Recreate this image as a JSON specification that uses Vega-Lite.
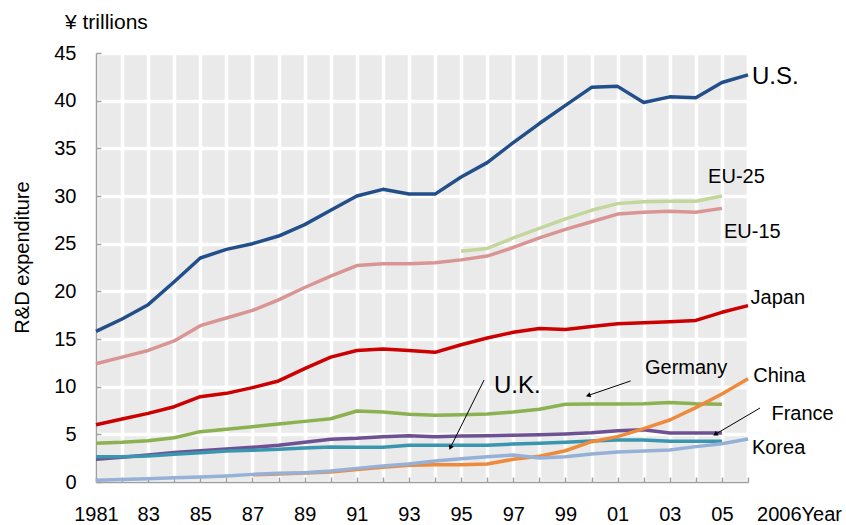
{
  "$schema": "https://vega.github.io/schema/vega-lite/v6.json",
  "autosize": "none",
  "width": 652,
  "height": 429,
  "padding": {"left": 96, "top": 53, "right": 98, "bottom": 43},
  "background": "white",
  "config": {
    "view": {"stroke": null, "fill": "#EAEAEA"},
    "font": "Liberation Sans",
    "title": {"font": "Liberation Sans", "fontSize": 21, "fontWeight": "normal", "color": "black"}
  },
  "title": {
    "text": "¥ trillions",
    "anchor": "start",
    "frame": "group",
    "dx": -31,
    "offset": 10
  },
  "datasets": {
    "series": [
      {"country": "U.S.", "year": 1981, "value": 15.8},
      {"country": "U.S.", "year": 1982, "value": 17.1},
      {"country": "U.S.", "year": 1983, "value": 18.6},
      {"country": "U.S.", "year": 1984, "value": 21.0},
      {"country": "U.S.", "year": 1985, "value": 23.5},
      {"country": "U.S.", "year": 1986, "value": 24.4},
      {"country": "U.S.", "year": 1987, "value": 25.0},
      {"country": "U.S.", "year": 1988, "value": 25.8},
      {"country": "U.S.", "year": 1989, "value": 27.0},
      {"country": "U.S.", "year": 1990, "value": 28.5},
      {"country": "U.S.", "year": 1991, "value": 30.0},
      {"country": "U.S.", "year": 1992, "value": 30.7},
      {"country": "U.S.", "year": 1993, "value": 30.2},
      {"country": "U.S.", "year": 1994, "value": 30.2},
      {"country": "U.S.", "year": 1995, "value": 32.0},
      {"country": "U.S.", "year": 1996, "value": 33.5},
      {"country": "U.S.", "year": 1997, "value": 35.6},
      {"country": "U.S.", "year": 1998, "value": 37.6},
      {"country": "U.S.", "year": 1999, "value": 39.5},
      {"country": "U.S.", "year": 2000, "value": 41.4},
      {"country": "U.S.", "year": 2001, "value": 41.5},
      {"country": "U.S.", "year": 2002, "value": 39.8},
      {"country": "U.S.", "year": 2003, "value": 40.4},
      {"country": "U.S.", "year": 2004, "value": 40.3},
      {"country": "U.S.", "year": 2005, "value": 41.9},
      {"country": "U.S.", "year": 2006, "value": 42.7},
      {"country": "EU-15", "year": 1981, "value": 12.4},
      {"country": "EU-15", "year": 1982, "value": 13.1},
      {"country": "EU-15", "year": 1983, "value": 13.8},
      {"country": "EU-15", "year": 1984, "value": 14.8},
      {"country": "EU-15", "year": 1985, "value": 16.4},
      {"country": "EU-15", "year": 1986, "value": 17.2},
      {"country": "EU-15", "year": 1987, "value": 18.0},
      {"country": "EU-15", "year": 1988, "value": 19.1},
      {"country": "EU-15", "year": 1989, "value": 20.4},
      {"country": "EU-15", "year": 1990, "value": 21.6},
      {"country": "EU-15", "year": 1991, "value": 22.7},
      {"country": "EU-15", "year": 1992, "value": 22.9},
      {"country": "EU-15", "year": 1993, "value": 22.9},
      {"country": "EU-15", "year": 1994, "value": 23.0},
      {"country": "EU-15", "year": 1995, "value": 23.3},
      {"country": "EU-15", "year": 1996, "value": 23.7},
      {"country": "EU-15", "year": 1997, "value": 24.6},
      {"country": "EU-15", "year": 1998, "value": 25.6},
      {"country": "EU-15", "year": 1999, "value": 26.5},
      {"country": "EU-15", "year": 2000, "value": 27.3},
      {"country": "EU-15", "year": 2001, "value": 28.1},
      {"country": "EU-15", "year": 2002, "value": 28.3},
      {"country": "EU-15", "year": 2003, "value": 28.4},
      {"country": "EU-15", "year": 2004, "value": 28.3},
      {"country": "EU-15", "year": 2005, "value": 28.7},
      {"country": "EU-25", "year": 1995, "value": 24.2},
      {"country": "EU-25", "year": 1996, "value": 24.5},
      {"country": "EU-25", "year": 1997, "value": 25.6},
      {"country": "EU-25", "year": 1998, "value": 26.6},
      {"country": "EU-25", "year": 1999, "value": 27.6},
      {"country": "EU-25", "year": 2000, "value": 28.5},
      {"country": "EU-25", "year": 2001, "value": 29.2},
      {"country": "EU-25", "year": 2002, "value": 29.4},
      {"country": "EU-25", "year": 2003, "value": 29.45},
      {"country": "EU-25", "year": 2004, "value": 29.45},
      {"country": "EU-25", "year": 2005, "value": 30.0},
      {"country": "Japan", "year": 1981, "value": 6.0},
      {"country": "Japan", "year": 1982, "value": 6.6},
      {"country": "Japan", "year": 1983, "value": 7.2},
      {"country": "Japan", "year": 1984, "value": 7.9},
      {"country": "Japan", "year": 1985, "value": 8.95},
      {"country": "Japan", "year": 1986, "value": 9.3},
      {"country": "Japan", "year": 1987, "value": 9.9},
      {"country": "Japan", "year": 1988, "value": 10.6},
      {"country": "Japan", "year": 1989, "value": 11.9},
      {"country": "Japan", "year": 1990, "value": 13.1},
      {"country": "Japan", "year": 1991, "value": 13.8},
      {"country": "Japan", "year": 1992, "value": 13.95},
      {"country": "Japan", "year": 1993, "value": 13.8},
      {"country": "Japan", "year": 1994, "value": 13.6},
      {"country": "Japan", "year": 1995, "value": 14.4},
      {"country": "Japan", "year": 1996, "value": 15.1},
      {"country": "Japan", "year": 1997, "value": 15.7},
      {"country": "Japan", "year": 1998, "value": 16.1},
      {"country": "Japan", "year": 1999, "value": 16.0},
      {"country": "Japan", "year": 2000, "value": 16.3},
      {"country": "Japan", "year": 2001, "value": 16.6},
      {"country": "Japan", "year": 2002, "value": 16.7},
      {"country": "Japan", "year": 2003, "value": 16.8},
      {"country": "Japan", "year": 2004, "value": 16.95},
      {"country": "Japan", "year": 2005, "value": 17.8},
      {"country": "Japan", "year": 2006, "value": 18.5},
      {"country": "Germany", "year": 1981, "value": 4.06},
      {"country": "Germany", "year": 1982, "value": 4.16},
      {"country": "Germany", "year": 1983, "value": 4.33},
      {"country": "Germany", "year": 1984, "value": 4.65},
      {"country": "Germany", "year": 1985, "value": 5.28},
      {"country": "Germany", "year": 1986, "value": 5.53},
      {"country": "Germany", "year": 1987, "value": 5.8},
      {"country": "Germany", "year": 1988, "value": 6.08},
      {"country": "Germany", "year": 1989, "value": 6.36},
      {"country": "Germany", "year": 1990, "value": 6.64},
      {"country": "Germany", "year": 1991, "value": 7.45},
      {"country": "Germany", "year": 1992, "value": 7.34},
      {"country": "Germany", "year": 1993, "value": 7.1},
      {"country": "Germany", "year": 1994, "value": 7.0},
      {"country": "Germany", "year": 1995, "value": 7.06},
      {"country": "Germany", "year": 1996, "value": 7.13},
      {"country": "Germany", "year": 1997, "value": 7.34},
      {"country": "Germany", "year": 1998, "value": 7.63},
      {"country": "Germany", "year": 1999, "value": 8.15},
      {"country": "Germany", "year": 2000, "value": 8.18},
      {"country": "Germany", "year": 2001, "value": 8.18},
      {"country": "Germany", "year": 2002, "value": 8.2},
      {"country": "Germany", "year": 2003, "value": 8.35},
      {"country": "Germany", "year": 2004, "value": 8.2},
      {"country": "Germany", "year": 2005, "value": 8.15},
      {"country": "France", "year": 1981, "value": 2.38},
      {"country": "France", "year": 1982, "value": 2.59},
      {"country": "France", "year": 1983, "value": 2.83},
      {"country": "France", "year": 1984, "value": 3.1},
      {"country": "France", "year": 1985, "value": 3.28},
      {"country": "France", "year": 1986, "value": 3.46},
      {"country": "France", "year": 1987, "value": 3.64},
      {"country": "France", "year": 1988, "value": 3.85},
      {"country": "France", "year": 1989, "value": 4.16},
      {"country": "France", "year": 1990, "value": 4.48},
      {"country": "France", "year": 1991, "value": 4.58},
      {"country": "France", "year": 1992, "value": 4.75},
      {"country": "France", "year": 1993, "value": 4.86},
      {"country": "France", "year": 1994, "value": 4.75},
      {"country": "France", "year": 1995, "value": 4.83},
      {"country": "France", "year": 1996, "value": 4.86},
      {"country": "France", "year": 1997, "value": 4.9},
      {"country": "France", "year": 1998, "value": 4.96},
      {"country": "France", "year": 1999, "value": 5.04},
      {"country": "France", "year": 2000, "value": 5.17},
      {"country": "France", "year": 2001, "value": 5.38},
      {"country": "France", "year": 2002, "value": 5.49},
      {"country": "France", "year": 2003, "value": 5.14},
      {"country": "France", "year": 2004, "value": 5.14},
      {"country": "France", "year": 2005, "value": 5.14},
      {"country": "U.K.", "year": 1981, "value": 2.66},
      {"country": "U.K.", "year": 1982, "value": 2.66},
      {"country": "U.K.", "year": 1983, "value": 2.73},
      {"country": "U.K.", "year": 1984, "value": 2.9},
      {"country": "U.K.", "year": 1985, "value": 3.08},
      {"country": "U.K.", "year": 1986, "value": 3.25},
      {"country": "U.K.", "year": 1987, "value": 3.32},
      {"country": "U.K.", "year": 1988, "value": 3.43},
      {"country": "U.K.", "year": 1989, "value": 3.57},
      {"country": "U.K.", "year": 1990, "value": 3.67},
      {"country": "U.K.", "year": 1991, "value": 3.64},
      {"country": "U.K.", "year": 1992, "value": 3.64},
      {"country": "U.K.", "year": 1993, "value": 3.85},
      {"country": "U.K.", "year": 1994, "value": 3.85},
      {"country": "U.K.", "year": 1995, "value": 3.85},
      {"country": "U.K.", "year": 1996, "value": 3.85},
      {"country": "U.K.", "year": 1997, "value": 3.99},
      {"country": "U.K.", "year": 1998, "value": 4.07},
      {"country": "U.K.", "year": 1999, "value": 4.16},
      {"country": "U.K.", "year": 2000, "value": 4.3},
      {"country": "U.K.", "year": 2001, "value": 4.4},
      {"country": "U.K.", "year": 2002, "value": 4.4},
      {"country": "U.K.", "year": 2003, "value": 4.27},
      {"country": "U.K.", "year": 2004, "value": 4.27},
      {"country": "U.K.", "year": 2005, "value": 4.27},
      {"country": "China", "year": 1987, "value": 0.75},
      {"country": "China", "year": 1988, "value": 0.85},
      {"country": "China", "year": 1989, "value": 0.95},
      {"country": "China", "year": 1990, "value": 1.05},
      {"country": "China", "year": 1991, "value": 1.3},
      {"country": "China", "year": 1992, "value": 1.55},
      {"country": "China", "year": 1993, "value": 1.75},
      {"country": "China", "year": 1994, "value": 1.8},
      {"country": "China", "year": 1995, "value": 1.8},
      {"country": "China", "year": 1996, "value": 1.89},
      {"country": "China", "year": 1997, "value": 2.38},
      {"country": "China", "year": 1998, "value": 2.7},
      {"country": "China", "year": 1999, "value": 3.28},
      {"country": "China", "year": 2000, "value": 4.23},
      {"country": "China", "year": 2001, "value": 4.76},
      {"country": "China", "year": 2002, "value": 5.6},
      {"country": "China", "year": 2003, "value": 6.5},
      {"country": "China", "year": 2004, "value": 7.8},
      {"country": "China", "year": 2005, "value": 9.23},
      {"country": "China", "year": 2006, "value": 10.84},
      {"country": "Korea", "year": 1981, "value": 0.18},
      {"country": "Korea", "year": 1982, "value": 0.26},
      {"country": "Korea", "year": 1983, "value": 0.35},
      {"country": "Korea", "year": 1984, "value": 0.44},
      {"country": "Korea", "year": 1985, "value": 0.52},
      {"country": "Korea", "year": 1986, "value": 0.63},
      {"country": "Korea", "year": 1987, "value": 0.8},
      {"country": "Korea", "year": 1988, "value": 0.91},
      {"country": "Korea", "year": 1989, "value": 0.98},
      {"country": "Korea", "year": 1990, "value": 1.15},
      {"country": "Korea", "year": 1991, "value": 1.43},
      {"country": "Korea", "year": 1992, "value": 1.68},
      {"country": "Korea", "year": 1993, "value": 1.89},
      {"country": "Korea", "year": 1994, "value": 2.2},
      {"country": "Korea", "year": 1995, "value": 2.45},
      {"country": "Korea", "year": 1996, "value": 2.66},
      {"country": "Korea", "year": 1997, "value": 2.83},
      {"country": "Korea", "year": 1998, "value": 2.52},
      {"country": "Korea", "year": 1999, "value": 2.66},
      {"country": "Korea", "year": 2000, "value": 2.94},
      {"country": "Korea", "year": 2001, "value": 3.15},
      {"country": "Korea", "year": 2002, "value": 3.25},
      {"country": "Korea", "year": 2003, "value": 3.36},
      {"country": "Korea", "year": 2004, "value": 3.71},
      {"country": "Korea", "year": 2005, "value": 4.02},
      {"country": "Korea", "year": 2006, "value": 4.51}
    ],
    "labels": [
      {"label": "U.S.", "year": 2006.15, "value": 42.5},
      {"label": "EU-25", "year": 2004.47, "value": 32.0},
      {"label": "EU-15", "year": 2005.08, "value": 26.2},
      {"label": "Japan", "year": 2006.1, "value": 19.3},
      {"label": "Germany", "year": 2002.05, "value": 12.0},
      {"label": "China", "year": 2006.2, "value": 11.1},
      {"label": "France", "year": 2006.9, "value": 7.1},
      {"label": "Korea", "year": 2006.15, "value": 3.6},
      {"label": "U.K.", "year": 1996.26, "value": 10.1}
    ],
    "arrows": [
      {"name": "Germany", "year": 2001.5, "value": 10.6, "year2": 1999.9, "value2": 9.1},
      {"name": "U.K.", "year": 1995.88, "value": 10.7, "year2": 1994.6, "value2": 3.67},
      {"name": "France", "year": 2006.46, "value": 7.76, "year2": 2004.77, "value2": 5.04}
    ]
  },
  "layer": [
    {
      "data": {"name": "series"},
      "mark": {"type": "line", "strokeWidth": 3.5, "strokeJoin": "round"},
      "encoding": {
        "x": {
          "field": "year", "type": "quantitative",
          "scale": {"domain": [1981, 2006], "nice": false, "zero": false},
          "axis": {
            "title": null,
            "values": [1981,1982,1983,1984,1985,1986,1987,1988,1989,1990,1991,1992,1993,1994,1995,1996,1997,1998,1999,2000,2001,2002,2003,2004,2005,2006],
            "tickCount": 40,
            "labelExpr": "datum.value > 2005.5 ? '2006Year' : (datum.value < 1981.5 ? '1981' : (datum.value % 2 == 1 ? substring(toString(datum.value), 2) : ''))",
            "labelOffset": {"condition": {"test": "datum.value > 2005.5", "value": 51}, "value": 0},
            "labelFlush": false,
            "labelOverlap": false,
            "labelBound": false,
            "labelFontSize": 20,
            "labelFont": "Liberation Sans",
            "labelColor": "black",
            "labelPadding": 27,
            "labelBaseline": "top",
            "tickSize": -5,
            "tickColor": "#A0A0A0",
            "tickWidth": 1.5,
            "domainColor": "#A0A0A0",
            "domainWidth": 1.5,
            "grid": true,
            "gridColor": "white",
            "gridWidth": 3.5
          }
        },
        "y": {
          "field": "value", "type": "quantitative",
          "scale": {"domain": [0, 45], "nice": false},
          "axis": {
            "title": "R&D expenditure",
            "titleFont": "Liberation Sans",
            "titleFontSize": 20,
            "titleFontWeight": "normal",
            "titleColor": "black",
            "titleAngle": -90,
            "titleX": -74,
            "titleY": 204,
            "titleAlign": "center",
            "titleBaseline": "middle",
            "values": [0,5,10,15,20,25,30,35,40,45],
            "tickCount": 20,
            "labelFontSize": 20,
            "labelFont": "Liberation Sans",
            "labelColor": "black",
            "labelPadding": 25,
            "labelFlush": false,
            "tickSize": -5,
            "tickColor": "#A0A0A0",
            "tickWidth": 1.5,
            "domainColor": "#A0A0A0",
            "domainWidth": 1.5,
            "grid": true,
            "gridColor": "white",
            "gridWidth": 3.5
          }
        },
        "color": {
          "field": "country", "type": "nominal", "legend": null,
          "scale": {
            "domain": ["U.S.", "EU-15", "EU-25", "Japan", "Germany", "France", "U.K.", "China", "Korea"],
            "range": ["#224F89", "#D99594", "#C3D69B", "#CC0000", "#8CB150", "#6E5193", "#3A95AE", "#EE8A3A", "#95B1D8"]
          }
        }
      }
    },
    {
      "data": {"name": "labels"},
      "transform": [{"filter": "datum.label != 'U.S.' && datum.label != 'U.K.'"}],
      "mark": {"type": "text", "align": "left", "baseline": "middle", "fontSize": 20, "font": "Liberation Sans", "color": "black"},
      "encoding": {
        "x": {"field": "year", "type": "quantitative"},
        "y": {"field": "value", "type": "quantitative"},
        "text": {"field": "label"}
      }
    },
    {
      "data": {"name": "labels"},
      "transform": [{"filter": "datum.label == 'U.S.' || datum.label == 'U.K.'"}],
      "mark": {"type": "text", "align": "left", "baseline": "middle", "fontSize": 24, "font": "Liberation Sans", "color": "black"},
      "encoding": {
        "x": {"field": "year", "type": "quantitative"},
        "y": {"field": "value", "type": "quantitative"},
        "text": {"field": "label"}
      }
    },
    {
      "data": {"name": "arrows"},
      "mark": {"type": "rule", "color": "black", "strokeWidth": 1},
      "encoding": {
        "x": {"field": "year", "type": "quantitative"},
        "y": {"field": "value", "type": "quantitative"},
        "x2": {"field": "year2"},
        "y2": {"field": "value2"}
      }
    },
    {
      "data": {"name": "arrows"},
      "transform": [{"filter": "datum.name == 'Germany'"}],
      "mark": {"type": "point", "shape": "triangle", "filled": true, "color": "black", "opacity": 1, "size": 30, "angle": 251.6},
      "encoding": {
        "x": {"field": "year2", "type": "quantitative"},
        "y": {"field": "value2", "type": "quantitative"}
      }
    },
    {
      "data": {"name": "arrows"},
      "transform": [{"filter": "datum.name == 'U.K.'"}],
      "mark": {"type": "point", "shape": "triangle", "filled": true, "color": "black", "opacity": 1, "size": 30, "angle": 206.2},
      "encoding": {
        "x": {"field": "year2", "type": "quantitative"},
        "y": {"field": "value2", "type": "quantitative"}
      }
    },
    {
      "data": {"name": "arrows"},
      "transform": [{"filter": "datum.name == 'France'"}],
      "mark": {"type": "point", "shape": "triangle", "filled": true, "color": "black", "opacity": 1, "size": 30, "angle": 239.4},
      "encoding": {
        "x": {"field": "year2", "type": "quantitative"},
        "y": {"field": "value2", "type": "quantitative"}
      }
    }
  ]
}
